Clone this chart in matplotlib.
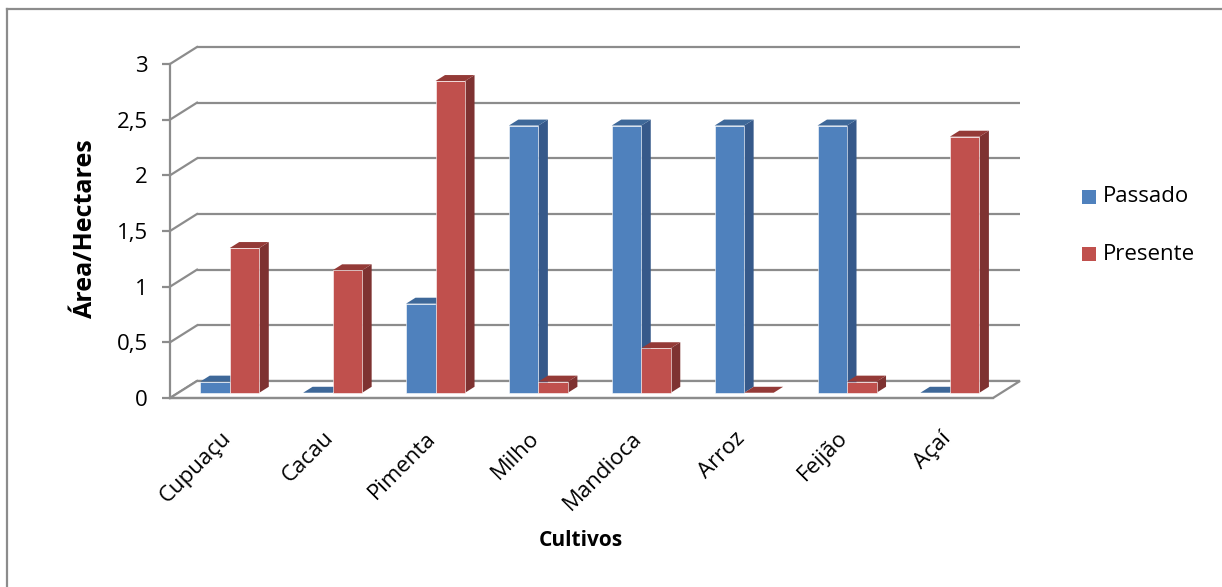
import matplotlib
matplotlib.use("Agg")
import matplotlib.pyplot as plt
from matplotlib.patches import Polygon
from matplotlib.transforms import offset_copy

plt.rcParams['font.family'] = ['Open Sans', 'DejaVu Sans']

# Data
cultivos = ["Cupuaçu", "Cacau", "Pimenta", "Milho", "Mandioca", "Arroz", "Feijão", "Açaí"]
passado = [0.1, 0.0, 0.8, 2.4, 2.4, 2.4, 2.4, 0.0]
presente = [1.3, 1.1, 2.8, 0.1, 0.4, 0.0, 0.1, 2.3]
series_names = ["Passado", "Presente"]
yticks = [0, 0.5, 1, 1.5, 2, 2.5, 3]
ytick_labels = ["0", "0,5", "1", "1,5", "2", "2,5", "3"]

# Face colours: front, side, top
blue = ("#4F81BD", "#36598A", "#3E6899")
red = ("#C0504D", "#7E3231", "#943A37")
grid_col = "#8C8C8C"

W, H, DPI = 1222, 587, 100
fig = plt.figure(figsize=(W / DPI, H / DPI), dpi=DPI)

# Front plane of the plot box in pixels
left_px, right_px, bottom_px, top_px = 170, 993, 398, 64
ax = fig.add_axes([left_px / W, 1 - bottom_px / H,
                   (right_px - left_px) / W, (bottom_px - top_px) / H])
ax.set_xlim(-0.5, len(cultivos) - 0.5)
ax.set_ylim(0, 3)
ax.patch.set_alpha(0)

# Depth of the box expressed in data units (27 px right, 17 px up)
px_x = (right_px - left_px) / len(cultivos)
px_y = (bottom_px - top_px) / 3
DX = 27 / px_x
DY = 17 / px_y


def proj(x, y, d):
    return (x + d * DX, y + d * DY)


x0, x1 = -0.5, len(cultivos) - 0.5

# Back wall and side wall gridlines
for v in yticks:
    ax.plot([proj(x0, v, 1)[0], proj(x1, v, 1)[0]], [v + DY, v + DY],
            color=grid_col, lw=1.6, clip_on=False, zorder=1, solid_capstyle='butt')
    ax.plot([x0, proj(x0, v, 1)[0]], [v, v + DY],
            color=grid_col, lw=1.6, clip_on=False, zorder=1)

# Floor
floor = Polygon([proj(x0, 0, 0), proj(x1, 0, 0), proj(x1, 0, 1), proj(x0, 0, 1)],
                closed=True, facecolor="white", edgecolor=grid_col, lw=1.6,
                clip_on=False, zorder=1.5)
ax.add_patch(floor)

# Bars
bw = 0.287
d0, d1 = 0.31, 0.66


def bar3d(xl, v, cols):
    xr = xl + bw
    front, side, top = cols
    if v > 0:
        ax.add_patch(Polygon([proj(xr, 0, d0), proj(xr, 0, d1), proj(xr, v, d1), proj(xr, v, d0)],
                             closed=True, facecolor=side, edgecolor="none",
                             clip_on=False, zorder=3))
    ax.add_patch(Polygon([proj(xl, v, d0), proj(xr, v, d0), proj(xr, v, d1), proj(xl, v, d1)],
                         closed=True, facecolor=top, edgecolor="none",
                         clip_on=False, zorder=3))
    if v > 0:
        ax.add_patch(Polygon([proj(xl, 0, d0), proj(xr, 0, d0), proj(xr, v, d0), proj(xl, v, d0)],
                             closed=True, facecolor=front, edgecolor="#ffffff",
                             lw=0.4, clip_on=False, zorder=3))


for i in range(len(cultivos)):
    bar3d(i - bw, passado[i], blue)
    bar3d(i, presente[i], red)

# Axes styling
for s in ("top", "right"):
    ax.spines[s].set_visible(False)
for s in ("left", "bottom"):
    ax.spines[s].set_color(grid_col)
    ax.spines[s].set_linewidth(1.6)
    ax.spines[s].set_zorder(2)
ax.set_yticks(yticks)
ax.set_yticklabels(ytick_labels, fontsize=16, color="black")
ax.tick_params(axis="y", length=6, width=1.6, color=grid_col, pad=10)
ax.set_xticks([])

# Category labels
lab_tr = offset_copy(ax.transData, fig=fig, x=6, y=-37, units="dots")
for i, name in enumerate(cultivos):
    ax.text(i, 0, name, transform=lab_tr, rotation=45, ha="right", va="center",
            rotation_mode="anchor", fontsize=16)

# Axis titles
fig.text(85 / W, 1 - 228 / H, "Área/Hectares", rotation=90, ha="center", va="center",
         fontsize=18, fontweight="bold")
fig.text(581 / W, 1 - 541 / H, "Cultivos", ha="center", va="center",
         fontsize=15, fontweight="bold")

# Legend
for name, cols, yc in zip(series_names, (blue, red), (197, 254)):
    fig.patches.append(plt.Rectangle((1082 / W, 1 - (yc + 7) / H), 14 / W, 14 / H,
                                     transform=fig.transFigure, facecolor=cols[0],
                                     edgecolor="none"))
    fig.text(1103 / W, 1 - yc / H, name, ha="left", va="center", fontsize=16)

# Chart area border
fig.add_artist(plt.Line2D([7 / W, 7 / W], [0, 1 - 9 / H], transform=fig.transFigure,
                          color="#8C8C8C", lw=1.6))
fig.add_artist(plt.Line2D([7 / W, 1], [1 - 9 / H, 1 - 9 / H], transform=fig.transFigure,
                          color="#8C8C8C", lw=1.6))

fig.savefig("out.png", dpi=DPI)
